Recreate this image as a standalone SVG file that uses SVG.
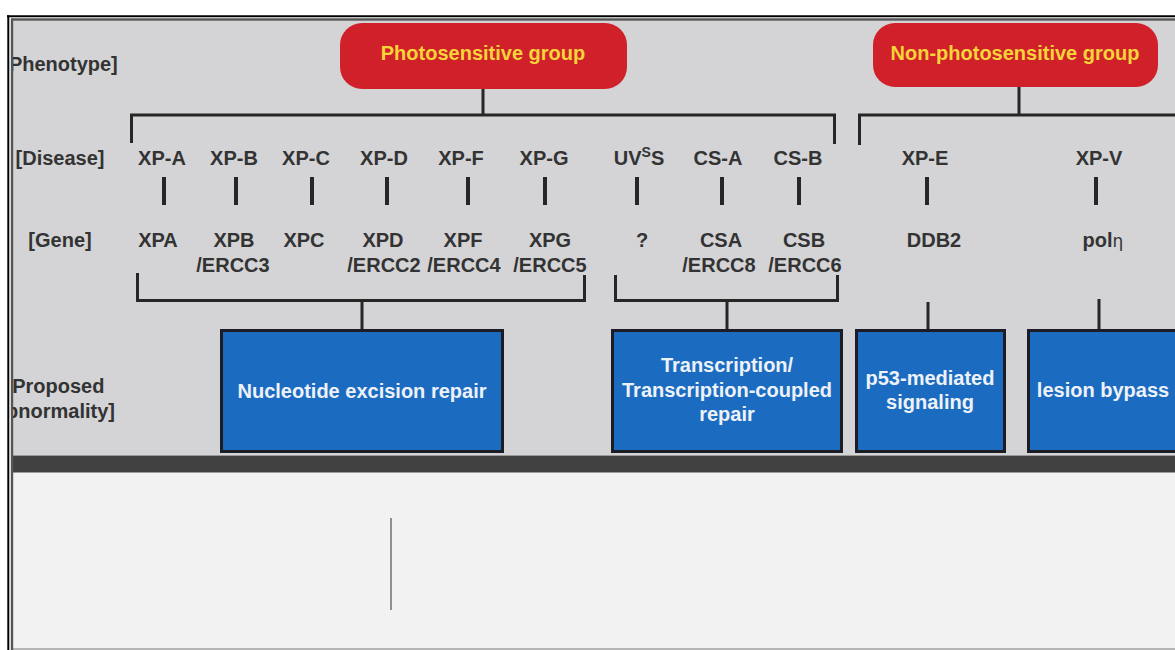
<svg xmlns="http://www.w3.org/2000/svg" width="1175" height="650" viewBox="0 0 1175 650">
<style>
.lbl{font-family:"Liberation Sans",Arial,sans-serif;font-weight:bold;font-size:20px;fill:#333;text-anchor:middle}
.grp{font-family:"Liberation Sans",Arial,sans-serif;font-weight:bold;font-size:20px;fill:#f6d43a;text-anchor:middle}
.box{font-family:"Liberation Sans",Arial,sans-serif;font-weight:bold;font-size:20px;fill:#eef2f8;text-anchor:middle}
.pill{fill:#d0212a}
.blue{fill:#1b6cc0;stroke:#1c1c24;stroke-width:3}
.br{fill:none;stroke:#262626;stroke-width:3}
.tick{stroke:#262626;stroke-width:4}
</style>
<defs>
<clipPath id="panel"><rect x="13" y="21" width="1162" height="434"/></clipPath>
</defs>
<rect x="0" y="0" width="1175" height="650" fill="#ffffff"/>
<!-- frame -->
<rect x="13" y="21" width="1162" height="434" fill="#d4d4d6"/>
<rect x="13" y="455" width="1162" height="17" fill="#414141"/>
<line x1="13" y1="455.5" x2="1175" y2="455.5" stroke="#9a9a9a" stroke-width="1"/>
<line x1="13" y1="472.5" x2="1175" y2="472.5" stroke="#9a9a9a" stroke-width="1"/>
<rect x="13" y="473" width="1162" height="177" fill="#f2f2f2"/>
<line x1="13" y1="649" x2="1175" y2="649" stroke="#b5b5b5" stroke-width="2"/>
<line x1="7" y1="16.3" x2="1175" y2="16.3" stroke="#000" stroke-width="2"/>
<line x1="8.3" y1="15.3" x2="8.3" y2="650" stroke="#000" stroke-width="2"/>
<line x1="11" y1="19.5" x2="1175" y2="19.5" stroke="#555" stroke-width="2.4"/>
<line x1="12" y1="18.5" x2="12" y2="650" stroke="#555" stroke-width="2.4"/>
<line x1="391" y1="518" x2="391" y2="610" stroke="#777" stroke-width="1.6"/>

<g id="row-labels" clip-path="url(#panel)">
<text class="lbl" x="60" y="71">[Phenotype]</text>
<text class="lbl" x="60" y="165">[Disease]</text>
<text class="lbl" x="60" y="247">[Gene]</text>
<text class="lbl" x="55" y="393">[Proposed</text>
<text class="lbl" x="55" y="418">abnormality]</text>
</g>

<g id="connectors">
<path class="br" d="M483 89V115M131.5 143V115H834.5V144"/>
<path class="br" d="M1019 87V115M859.5 145V115H1175"/>
<line class="tick" x1="164" y1="177" x2="164" y2="205"/>
<line class="tick" x1="236" y1="177" x2="236" y2="205"/>
<line class="tick" x1="312" y1="177" x2="312" y2="205"/>
<line class="tick" x1="387" y1="177" x2="387" y2="205"/>
<line class="tick" x1="468" y1="177" x2="468" y2="205"/>
<line class="tick" x1="545" y1="177" x2="545" y2="205"/>
<line class="tick" x1="637" y1="177" x2="637" y2="205"/>
<line class="tick" x1="722" y1="177" x2="722" y2="205"/>
<line class="tick" x1="799" y1="177" x2="799" y2="205"/>
<line class="tick" x1="927" y1="177" x2="927" y2="205"/>
<line class="tick" x1="1096" y1="177" x2="1096" y2="205"/>
<path class="br" d="M137.5 273V300.5H584.5V275M362 300.5V330"/>
<path class="br" d="M615.5 275V300.5H837.5V275M727 300.5V330"/>
<path class="br" d="M928 302V330"/>
<path class="br" d="M1099 299V330"/>
</g>

<g id="photosensitive">
<rect class="pill" x="340" y="23" width="287" height="66" rx="22"/>
<text class="grp" x="483" y="60">Photosensitive group</text>
</g>
<g id="non-photosensitive">
<rect class="pill" x="873" y="23" width="285" height="64" rx="22"/>
<text class="grp" x="1015" y="60">Non-photosensitive group</text>
</g>

<g id="xp-a"><text class="lbl" x="162" y="165">XP-A</text><text class="lbl" x="158" y="247">XPA</text></g>
<g id="xp-b"><text class="lbl" x="234" y="165">XP-B</text><text class="lbl" x="234" y="247">XPB</text><text class="lbl" x="233" y="272">/ERCC3</text></g>
<g id="xp-c"><text class="lbl" x="306" y="165">XP-C</text><text class="lbl" x="304" y="247">XPC</text></g>
<g id="xp-d"><text class="lbl" x="384" y="165">XP-D</text><text class="lbl" x="383" y="247">XPD</text><text class="lbl" x="384" y="272">/ERCC2</text></g>
<g id="xp-f"><text class="lbl" x="461" y="165">XP-F</text><text class="lbl" x="463" y="247">XPF</text><text class="lbl" x="464" y="272">/ERCC4</text></g>
<g id="xp-g"><text class="lbl" x="544" y="165">XP-G</text><text class="lbl" x="550" y="247">XPG</text><text class="lbl" x="550" y="272">/ERCC5</text></g>
<g id="uvss"><text class="lbl" x="639" y="165">UV<tspan font-size="14" dy="-8">S</tspan><tspan dy="8">S</tspan></text><text class="lbl" x="642" y="247">?</text></g>
<g id="cs-a"><text class="lbl" x="718" y="165">CS-A</text><text class="lbl" x="721" y="247">CSA</text><text class="lbl" x="719" y="272">/ERCC8</text></g>
<g id="cs-b"><text class="lbl" x="798" y="165">CS-B</text><text class="lbl" x="804" y="247">CSB</text><text class="lbl" x="805" y="272">/ERCC6</text></g>
<g id="xp-e"><text class="lbl" x="925" y="165">XP-E</text><text class="lbl" x="934" y="247">DDB2</text></g>
<g id="xp-v"><text class="lbl" x="1099" y="165">XP-V</text><text class="lbl" x="1103" y="247">pol<tspan font-family="'DejaVu Sans',sans-serif" font-weight="normal" font-size="17">η</tspan></text></g>

<g id="ner">
<rect class="blue" x="221.5" y="330.5" width="281" height="121"/>
<text class="box" x="362" y="398">Nucleotide excision repair</text>
</g>
<g id="tcr">
<rect class="blue" x="612.5" y="330.5" width="229" height="121"/>
<text class="box" x="727" y="372">Transcription/</text>
<text class="box" x="727" y="397">Transcription-coupled</text>
<text class="box" x="727" y="421">repair</text>
</g>
<g id="p53">
<rect class="blue" x="856.5" y="330.5" width="148" height="121"/>
<text class="box" x="930" y="385">p53-mediated</text>
<text class="box" x="930" y="409">signaling</text>
</g>
<g id="bypass">
<rect class="blue" x="1028.5" y="330.5" width="160" height="121"/>
<text class="box" x="1103" y="397">lesion bypass</text>
</g>
</svg>
